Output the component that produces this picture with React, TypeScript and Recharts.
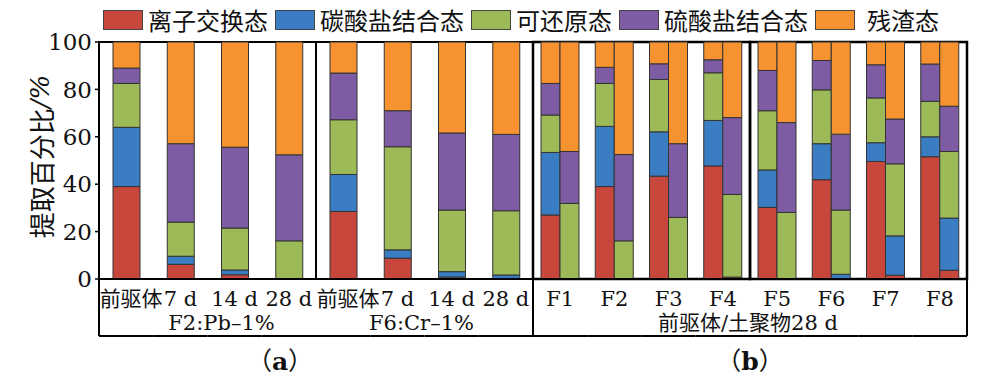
import React from 'react';
import { BarChart, Bar, XAxis, YAxis, Legend, ReferenceArea } from 'recharts';

// ---------- data ----------
const categoryIds = ['a0', 'a1', 'a2', 'a3', 'a4', 'a5', 'a6', 'a7', 'b0', 'b1', 'b2', 'b3', 'b4', 'b5', 'b6', 'b7'];
const tickLabels = ['前驱体', '7 d', '14 d', '28 d', '前驱体', '7 d', '14 d', '28 d', 'F1', 'F2', 'F3', 'F4', 'F5', 'F6', 'F7', 'F8'];
const groupLabels = ['F2:Pb–1%', 'F6:Cr–1%', '前驱体/土聚物28 d'];
const panelLabels = ['a', 'b'];
const seriesNames = ['离子交换态', '碳酸盐结合态', '可还原态', '硫酸盐结合态', '残渣态'];
const yTicks = [0, 20, 40, 60, 80, 100];

// panel (a): F2:Pb-1% (前驱体, 7 d, 14 d, 28 d), F6:Cr-1% (前驱体, 7 d, 14 d, 28 d)
const ionA = [39, 6.2, 1.8, 0, 28.5, 8.8, 0.8, 0];
const carbA = [25, 3.4, 2.0, 0, 15.6, 3.5, 2.3, 1.7];
const reducA = [18.5, 14.4, 17.7, 16.1, 23.1, 43.5, 26, 27.1];
const sulfA = [6.5, 33.1, 34.1, 36.3, 19.7, 15.2, 32.5, 32.2];
const residA = [11, 42.9, 44.4, 47.6, 13.1, 29, 38.4, 39];

// panel (b): F1..F8, left bar = 前驱体
const ionP = [27, 39, 43.4, 47.7, 30.2, 41.9, 49.6, 51.6];
const carbP = [26.4, 25.4, 18.7, 19.2, 15.8, 15.2, 7.9, 8.4];
const reducP = [15.8, 18.1, 22.1, 20.1, 25, 22.7, 18.9, 15];
const sulfP = [13.3, 6.8, 6.6, 5.5, 17, 12.4, 14, 15.7];
const residP = [17.5, 10.7, 9.2, 7.5, 12, 7.8, 9.6, 9.3];

// panel (b): F1..F8, right bar = 土聚物 28 d
const ionG = [0, 0, 0, 0.8, 0, 0, 1.6, 3.7];
const carbG = [0, 0, 0, 0, 0, 2, 16.6, 22];
const reducG = [31.9, 16.1, 26, 34.9, 28.1, 27.1, 30.4, 28.1];
const sulfG = [21.9, 36.4, 31.1, 32.4, 37.9, 32, 18.9, 19.1];
const residG = [46.2, 47.5, 42.9, 31.9, 34, 38.9, 32.5, 27.1];

// ---------- styles ----------
const colors = ['#C8473D', '#3B7DC3', '#9CBB58', '#7D5CA3', '#F6922F'];
const FONT = "'DejaVu Serif', 'Noto Sans CJK SC', serif";
const CJK = "'Noto Sans CJK SC', 'DejaVu Serif', sans-serif";
const EDGE = '#333';

const aSeries = [ionA, carbA, reducA, sulfA, residA];
const pSeries = [ionP, carbP, reducP, sulfP, residP];
const gSeries = [ionG, carbG, reducG, sulfG, residG];

const data = categoryIds.map((id, i) => {
  const row: Record<string, any> = { id };
  for (let s = 0; s < 5; s++) {
    row['a' + s] = i < 8 ? aSeries[s][i] : null;
    row['p' + s] = i >= 8 ? pSeries[s][i - 8] : null;
    row['g' + s] = i >= 8 ? gSeries[s][i - 8] : null;
  }
  return row;
});

// text placement relative to ticks (layout only)
const groupLabelAt: Record<number, { label: number; dx: number }> = {
  1: { label: 0, dx: 14 },
  5: { label: 1, dx: -3 },
  11: { label: 2, dx: -2 },
};
const panelLabelAt: Record<number, { label: number; dx: number }> = {
  3: { label: 0, dx: -36 },
  11: { label: 1, dx: 0 },
};

const XTick = (props: any) => {
  const { x, y, payload, index, width, visibleTicksCount } = props;
  const half = payload && payload.offset ? payload.offset : width / visibleTicksCount / 2;
  const label = tickLabels[index];
  const isCjk = label === '前驱体';
  const g = groupLabelAt[index];
  const p = panelLabelAt[index];
  return (
    <g>
      <text
        x={x + (isCjk ? 5 : 0)}
        y={y + 27}
        textAnchor="middle"
        fontFamily={isCjk ? CJK : FONT}
        fontSize={21}
        fill="#111"
      >
        {label}
      </text>
      <line x1={x - half} x2={x + half} y1={y + 57} y2={y + 57} stroke="#000" strokeWidth={2} />
      {(index === 0 || index === 8) && (
        <line x1={x - half} x2={x - half} y1={y} y2={y + 57} stroke="#000" strokeWidth={2} />
      )}
      {index === categoryIds.length - 1 && (
        <line x1={x + half} x2={x + half} y1={y} y2={y + 57} stroke="#000" strokeWidth={2} />
      )}
      {g && (
        <text x={x + half + g.dx} y={y + 51} textAnchor="middle" fontFamily={FONT} fontSize={21} fill="#111">
          {groupLabels[g.label]}
        </text>
      )}
      {p && (
        <text x={x + half + p.dx} y={y + 91} textAnchor="middle" fontFamily={FONT} fontSize={25} fill="#111">
          <tspan fontFamily={CJK}>（</tspan>
          <tspan fontWeight="bold">{panelLabels[p.label]}</tspan>
          <tspan fontFamily={CJK}>）</tspan>
        </text>
      )}
    </g>
  );
};

const LegendContent = () => (
  <div
    style={{
      display: 'flex',
      alignItems: 'center',
      height: 42,
      paddingLeft: 103,
      fontFamily: CJK,
      fontSize: 24,
      color: '#111',
      boxSizing: 'border-box',
      paddingBottom: 2,
    }}
  >
    {seriesNames.map((n, i) => (
      <div key={n} style={{ display: 'flex', alignItems: 'center', marginRight: 7 }}>
        <div
          style={{
            width: 40,
            height: 20,
            background: colors[i],
            border: '1px solid #444',
            boxSizing: 'border-box',
            marginRight: i === 4 ? 12 : 5,
          }}
        />
        <span style={{ lineHeight: '24px' }}>{n}</span>
      </div>
    ))}
  </div>
);

const YLabel = (props: any) => {
  const vb = props.viewBox || { x: 0, y: 42, width: 99, height: 237 };
  const cx = vb.x + 40;
  const cy = vb.y + vb.height / 2 - 4;
  return (
    <text
      x={cx}
      y={cy}
      transform={`rotate(-90, ${cx}, ${cy})`}
      textAnchor="middle"
      dominantBaseline="central"
      fontFamily={CJK}
      fontSize={26}
      fill="#111"
    >
      提取百分比<tspan fontFamily={FONT} fontStyle="italic">/%</tspan>
    </text>
  );
};

export default function App() {
  return (
    <div style={{ position: 'absolute', left: 0, top: 0, width: 986, height: 383, background: '#fff' }}>
      <BarChart
        width={986}
        height={383}
        data={data}
        margin={{ top: 0, right: 19, left: 0, bottom: 0 }}
        barGap={0}
        barCategoryGap={0}
      >
        <Legend verticalAlign="top" align="left" height={42} content={<LegendContent />} />
        <XAxis
          xAxisId="a"
          dataKey="id"
          type="category"
          interval={0}
          height={104}
          tickSize={0}
          tickMargin={0}
          tickLine={false}
          axisLine={{ stroke: '#000', strokeWidth: 2 }}
          tick={<XTick />}
        />
        <XAxis xAxisId="b" dataKey="id" type="category" hide />
        <YAxis
          type="number"
          domain={[0, 100]}
          ticks={yTicks}
          width={99}
          tickSize={4}
          tickMargin={3}
          axisLine={{ stroke: '#000', strokeWidth: 2 }}
          tickLine={{ stroke: '#000', strokeWidth: 1.5 }}
          tick={{ fontFamily: FONT, fontSize: 23, fill: '#111' }}
          label={<YLabel />}
        />
        {seriesNames.map((n, s) => (
          <Bar
            key={'a' + s}
            xAxisId="a"
            dataKey={'a' + s}
            name={n}
            stackId="A"
            barSize={27}
            fill={colors[s]}
            stroke={EDGE}
            strokeWidth={1}
            isAnimationActive={false}
          />
        ))}
        {seriesNames.map((n, s) => (
          <Bar
            key={'p' + s}
            xAxisId="b"
            dataKey={'p' + s}
            name={n}
            stackId="P"
            barSize={19}
            fill={colors[s]}
            stroke={EDGE}
            strokeWidth={1}
            legendType="none"
            isAnimationActive={false}
          />
        ))}
        {seriesNames.map((n, s) => (
          <Bar
            key={'g' + s}
            xAxisId="b"
            dataKey={'g' + s}
            name={n}
            stackId="G"
            barSize={19}
            fill={colors[s]}
            stroke={EDGE}
            strokeWidth={1}
            legendType="none"
            isAnimationActive={false}
          />
        ))}
        <ReferenceArea xAxisId="a" x1="a0" x2="a3" y1={0} y2={100} fill="none" stroke="#000" strokeWidth={2} ifOverflow="visible" />
        <ReferenceArea xAxisId="a" x1="a4" x2="a7" y1={0} y2={100} fill="none" stroke="#000" strokeWidth={2} ifOverflow="visible" />
        <ReferenceArea xAxisId="a" x1="b0" x2="b3" y1={0} y2={100} fill="none" stroke="#000" strokeWidth={2.5} ifOverflow="visible" />
        <ReferenceArea xAxisId="a" x1="b4" x2="b7" y1={0} y2={100} fill="none" stroke="#000" strokeWidth={2.5} ifOverflow="visible" />
      </BarChart>
    </div>
  );
}
